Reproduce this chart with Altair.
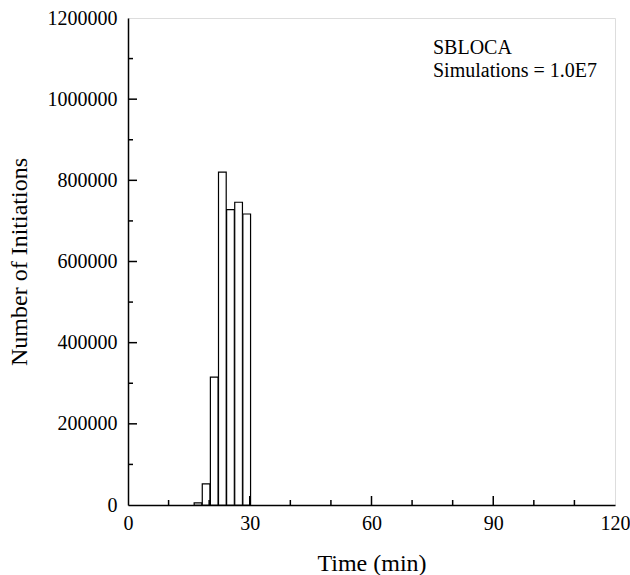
import altair as alt
import pandas as pd

# Histogram bins (start minute) and counts
bin_start = [16, 18, 20, 22, 24, 26, 28]
counts = [5000, 52000, 315000, 820000, 728000, 746000, 717000]

x_major = [0, 30, 60, 90, 120]
x_minor = [10, 20, 40, 50, 70, 80, 100, 110]
y_major = [0, 200000, 400000, 600000, 800000, 1000000, 1200000]
y_minor = [100000, 300000, 500000, 700000, 900000, 1100000]

annot_lines = ["SBLOCA", "Simulations = 1.0E7"]

W, H = 487, 487
FONT = "Liberation Serif"

bars_df = pd.DataFrame({"start": bin_start, "count": counts})

xs = alt.Scale(domain=[0, 120], nice=False, zero=False)
ys = alt.Scale(domain=[0, 1200000], nice=False)

bars = alt.Chart(bars_df).transform_calculate(
    x0="datum.start + 0.3", x1="datum.start + 2.2", base="0"
).mark_bar(fill="white", stroke="black", strokeWidth=1.2).encode(
    x=alt.X("x0:Q", scale=xs,
            axis=alt.Axis(values=x_major, title="Time (min)", ticks=False, grid=False,
                          labelFont=FONT, labelFontSize=20, labelColor="black",
                          labelPadding=8, titleFont=FONT, titleFontSize=24,
                          titleFontWeight="normal", titleColor="black", titlePadding=18,
                          domainColor="black", domainWidth=1.5, labelFlush=False)),
    x2="x1:Q",
    y=alt.Y("count:Q", scale=ys,
            axis=alt.Axis(values=y_major, format="d", title="Number of Initiations",
                          ticks=False, grid=False, labelFont=FONT, labelFontSize=20,
                          labelColor="black", labelPadding=11, titleFont=FONT,
                          titleFontSize=24, titleFontWeight="normal", titleColor="black",
                          titlePadding=16, domainColor="black", domainWidth=1.5,
                          labelFlush=False)),
    y2="base:Q",
)

xmaj = alt.Chart(pd.DataFrame({"v": x_major[1:-1]})).mark_rule(color="black", strokeWidth=1.5).encode(
    x=alt.X("v:Q", scale=xs), y=alt.value(H), y2=alt.value(H - 9))
xmin = alt.Chart(pd.DataFrame({"v": x_minor})).mark_rule(color="black", strokeWidth=1.5).encode(
    x=alt.X("v:Q", scale=xs), y=alt.value(H), y2=alt.value(H - 5))
ymaj = alt.Chart(pd.DataFrame({"v": y_major[1:-1]})).mark_rule(color="black", strokeWidth=1.5).encode(
    y=alt.Y("v:Q", scale=ys), x=alt.value(0), x2=alt.value(9))
ymin = alt.Chart(pd.DataFrame({"v": y_minor})).mark_rule(color="black", strokeWidth=1.5).encode(
    y=alt.Y("v:Q", scale=ys), x=alt.value(0), x2=alt.value(5))

annot = alt.Chart(pd.DataFrame({"t": annot_lines, "i": [0, 1]})).transform_calculate(
    py="36 + datum.i * 23"
).mark_text(align="left", baseline="alphabetic", font=FONT, fontSize=20, color="black").encode(
    text="t:N", x=alt.value(305), y=alt.Y("py:Q", scale=None))

chart = alt.layer(bars, xmaj, xmin, ymaj, ymin, annot).properties(
    width=W, height=H, autosize="none",
    padding={"left": 128, "top": 18, "right": 15, "bottom": 70},
).configure_view(stroke="black", strokeWidth=1.5).configure(background="white")

chart.save("out.html", embed_options={"renderer": "svg", "actions": False})
